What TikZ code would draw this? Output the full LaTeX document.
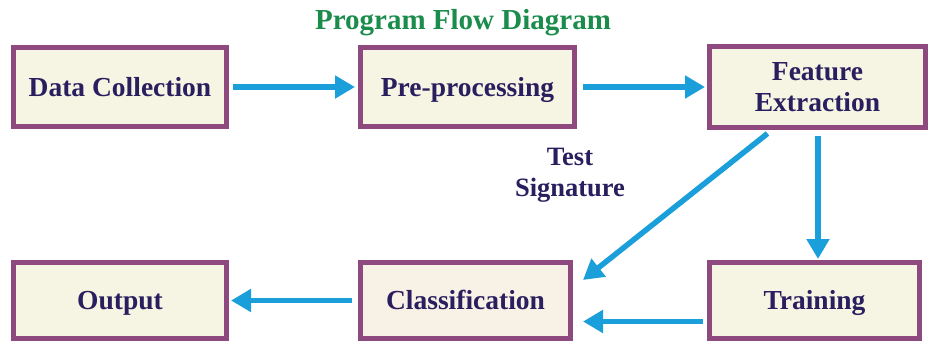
\documentclass[tikz,border=0pt]{standalone}
\usepackage{fontspec}
\setmainfont{Liberation Serif}
\usetikzlibrary{arrows.meta,calc}
\definecolor{bordc}{HTML}{8E4A7E}
\definecolor{fillA}{HTML}{F6F5E4}
\definecolor{fillB}{HTML}{F8F1E6}
\definecolor{txtc}{HTML}{2A1F5E}
\definecolor{ttlc}{HTML}{1B8C4C}
\definecolor{arrc}{HTML}{1A9FDA}
\tikzset{
  box/.style={draw=bordc, line width=5pt, fill=fillA, text=txtc,
    font=\bfseries\fontsize{27.5}{31.5}\selectfont, align=center, inner sep=0pt},
  one/.style={text height=18pt, text depth=0pt},
  arr/.style={draw=arrc, line width=5.5pt,
    -{Triangle[length=20pt,width=22pt]}},
  lbl/.style={text=txtc, font=\bfseries\fontsize{26.5}{31}\selectfont, align=center}
}
\begin{document}
\begin{tikzpicture}[x=1pt,y=-1pt]
\useasboundingbox (0,0) rectangle (931,345);
\node[box, one, minimum width=213pt, minimum height=79pt] (dc) at (120,87) {Data Collection};
\node[box, one, minimum width=214pt, minimum height=79pt] (pp) at (467.5,87) {Pre-processing};
\node[box, minimum width=216pt, minimum height=80pt] (fe) at (817.5,87) {Feature\\Extraction};
\node[box, one, minimum width=213pt, minimum height=76pt] (out) at (120,300.5) {Output};
\node[box, one, fill=fillB, minimum width=210pt, minimum height=76pt] (cl) at (465.5,300.5) {Classification};
\node[box, one, minimum width=210pt, minimum height=76pt] (tr) at (814.5,300.5) {Training};
\node[text=ttlc, font=\bfseries\fontsize{29}{33}\selectfont] (title) at (463,23) {Program Flow Diagram};
\node[lbl] (ts) at (570,175) {Test\\Signature};
\draw[arr, shorten <=4pt, shorten >=3pt] (dc) -- (pp);
\draw[arr, shorten <=6pt, shorten >=2pt] (pp) -- (fe);
\draw[arr, shorten <=6pt, shorten >=1pt] ($(fe.south)+(0.5,0)$) -- ($(tr.north)+(3.5,0)$);
\coordinate (d1) at ($(fe.south)+(-50,4)$);
\coordinate (d2) at ($(cl.north east)+(10,20)$);
\draw[arr] (d1) -- (d2);
\coordinate (b1) at ($(tr.west)+(-4,21)$);
\coordinate (b2) at ($(cl.east)+(10,21)$);
\draw[arr] (b1) -- (b2);
\draw[arr, shorten <=6pt, shorten >=2pt] (cl) -- (out);
\end{tikzpicture}
\end{document}
